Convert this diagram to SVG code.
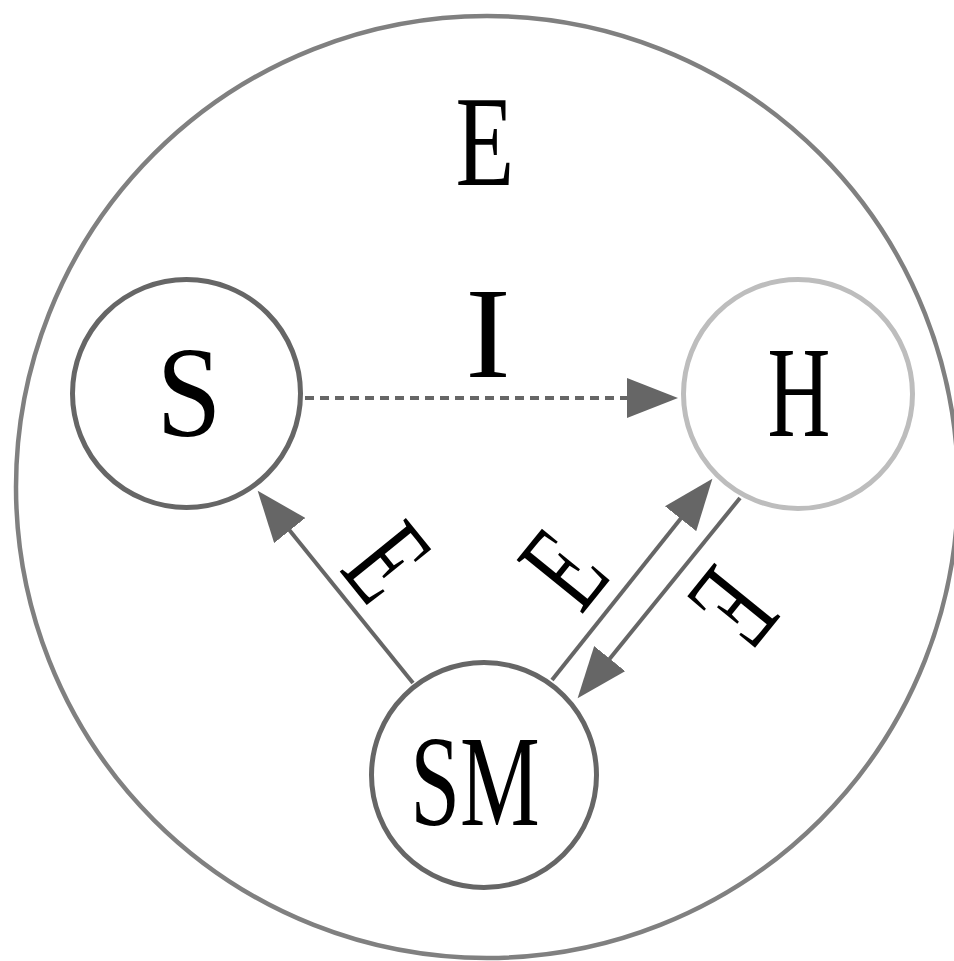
<svg xmlns="http://www.w3.org/2000/svg" width="954" height="961" viewBox="0 0 954 961">
<style>
  text { font-family: 'Liberation Serif', 'Times New Roman', Times, serif; font-size: 130px; fill: #000; text-anchor: middle; font-weight: normal; }
  .node { fill: #fff; stroke-width: 5; }
  .edge { stroke: #666; stroke-width: 4; fill: none; }
  .head { fill: #666; }
</style>
<defs>
  <marker id="arr" markerUnits="userSpaceOnUse" markerWidth="52" markerHeight="40" viewBox="0 0 52 40" refX="1" refY="20" orient="auto">
    <path class="head" d="M0,0 L51,20 L0,40 z"/>
  </marker>
</defs>
<rect width="954" height="961" fill="#fff"/>
<g id="env">
  <circle cx="487" cy="487" r="471" fill="none" stroke="#808080" stroke-width="4.5"/>
  <text font-family="Liberation Serif, serif" transform="translate(485,185) scale(0.74,1)">E</text>
</g>
<g id="connectors">
  <line class="edge" x1="305" y1="398" x2="628" y2="398" stroke-dasharray="9,6" marker-end="url(#arr)"/>
  <text font-family="Liberation Serif, serif" transform="translate(488,377) scale(1.05,1)">I</text>
  <line class="edge" x1="413" y1="683" x2="289.1" y2="529.7" marker-end="url(#arr)"/>
  <text font-family="Liberation Serif, serif" transform="translate(387.5,562) rotate(51) scale(0.63,1) translate(0,43)">E</text>
  <line class="edge" x1="552" y1="680" x2="681.2" y2="517.9" marker-end="url(#arr)"/>
  <text font-family="Liberation Serif, serif" transform="translate(563.5,569) rotate(-51) scale(0.63,1) translate(0,43)">E</text>
  <line class="edge" x1="740" y1="498" x2="609.1" y2="659.4" marker-end="url(#arr)"/>
  <text font-family="Liberation Serif, serif" transform="translate(733.5,607.5) rotate(129) scale(0.63,1) translate(0,43)">E</text>
</g>
<g id="S">
  <circle class="node" cx="186.5" cy="393.5" r="114" stroke="#666"/>
  <text font-family="Liberation Serif, serif" transform="translate(189,436) scale(0.9,1)">S</text>
</g>
<g id="H">
  <circle class="node" cx="798" cy="394" r="114.5" stroke="#bdbdbd"/>
  <text font-family="Liberation Serif, serif" transform="translate(799,436) scale(0.67,1)">H</text>
</g>
<g id="SM">
  <circle class="node" cx="484" cy="775" r="112.5" stroke="#666"/>
  <text font-family="Liberation Serif, serif" transform="translate(475,825) scale(0.69,1)">SM</text>
</g>
</svg>
